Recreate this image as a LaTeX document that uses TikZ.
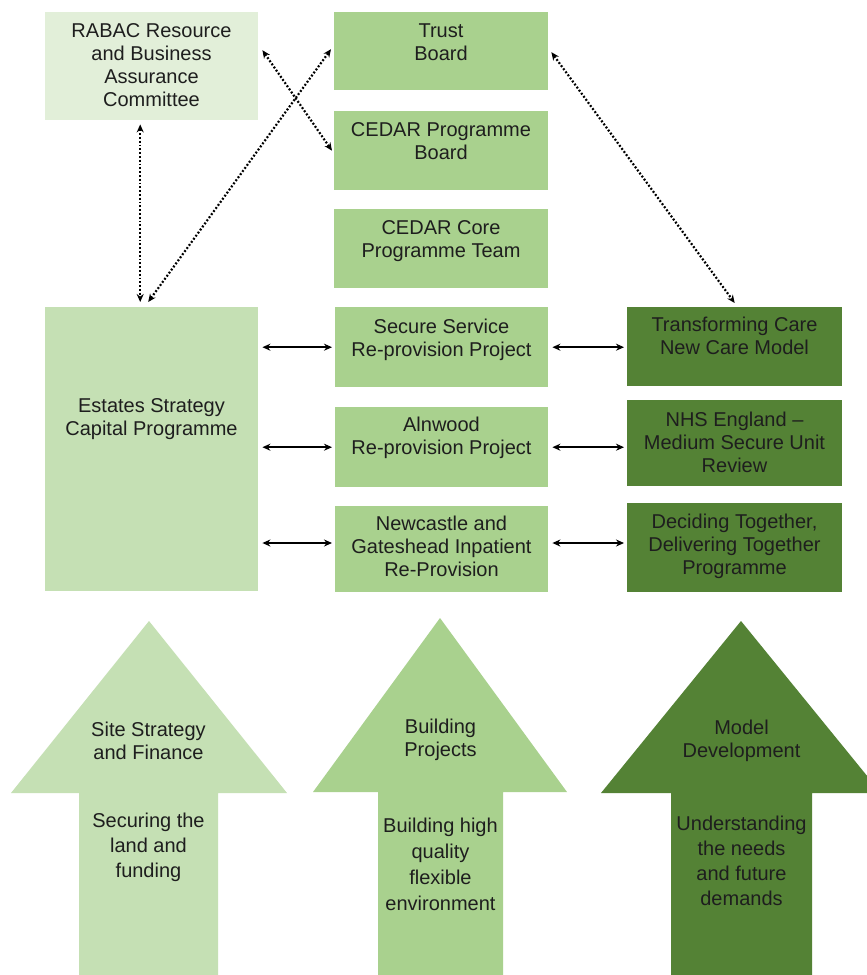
\documentclass[tikz,border=0pt]{standalone}
\usepackage{fontspec}
\setmainfont{Liberation Sans}
\usetikzlibrary{arrows.meta}

\definecolor{paleGreen}{HTML}{E2EFD9}
\definecolor{softGreen}{HTML}{C5E0B4}
\definecolor{midGreen}{HTML}{A9D18E}
\definecolor{darkGreen}{HTML}{548235}
\definecolor{inkGray}{HTML}{1E1E1E}

\begin{document}
\begin{tikzpicture}[x=1pt, y=-1pt,
  box/.style={draw=none, inner sep=0pt, anchor=north west},
  lbl/.style={anchor=base, align=center, inner sep=0pt, text=inkGray,
              font=\fontsize{20}{23}\selectfont},
  lblwide/.style={lbl, font=\fontsize{20}{25}\selectfont},
  link/.style={line width=1.8pt, black,
               {Stealth[length=8pt,width=7pt]}-{Stealth[length=8pt,width=7pt]},
               shorten <=4pt, shorten >=3pt},
  dotlink/.style={line width=2.2pt, black, dash pattern=on 1.9pt off 1.9pt,
               {Stealth[length=8pt,width=7pt]}-{Stealth[length=8pt,width=7pt]}}
]
\useasboundingbox (0,0) rectangle (867,975);
\clip (0,0) rectangle (867,975);
\fill[white] (0,0) rectangle (867,975);

% upward block arrows along the bottom
\fill[softGreen] (149,621) -- (287,793) -- (218,793) -- (218,975) -- (79,975)
  -- (79,793) -- (11,793) -- cycle;
\fill[midGreen] (440,618) -- (567,792) -- (503,792) -- (503,975) -- (378,975)
  -- (378,792) -- (313,792) -- cycle;
\fill[darkGreen] (741,621) -- (881,793) -- (812,793) -- (812,975) -- (671,975)
  -- (671,793) -- (601,793) -- cycle;

\node[lbl] (siteHead) at (148.5,759) {Site Strategy\\and Finance};
\node[lblwide] (siteShaft) at (148.5,877) {Securing the\\land and\\funding};
\node[lbl] (buildHead) at (440.5,756) {Building\\Projects};
\node[lbl, font=\fontsize{20}{26}\selectfont] (buildShaft) at (440.5,910)
  {Building high\\quality\\flexible\\environment};
\node[lbl] (modelHead) at (741.5,757) {Model\\Development};
\node[lblwide] (modelShaft) at (741.5,905)
  {Understanding\\the needs\\and future\\demands};

% governance boxes
\node[box, fill=paleGreen, minimum width=213pt, minimum height=108pt] (rabac) at (45,12) {};
\node[box, fill=midGreen, minimum width=214pt, minimum height=78pt] (trust) at (334,12) {};
\node[box, fill=midGreen, minimum width=214pt, minimum height=79pt] (cedarpb) at (334,111) {};
\node[box, fill=midGreen, minimum width=214pt, minimum height=79pt] (cedarcore) at (334,209) {};

% project rows
\node[box, fill=softGreen, minimum width=213pt, minimum height=284pt] (estates) at (45,307) {};
\node[box, fill=midGreen, minimum width=213pt, minimum height=80pt] (secure) at (335,307) {};
\node[box, fill=midGreen, minimum width=213pt, minimum height=80pt] (alnwood) at (335,407) {};
\node[box, fill=midGreen, minimum width=213pt, minimum height=86pt] (newcastle) at (335,506) {};
\node[box, fill=darkGreen, minimum width=215pt, minimum height=79pt] (transform) at (627,307) {};
\node[box, fill=darkGreen, minimum width=215pt, minimum height=86pt] (nhs) at (627,400) {};
\node[box, fill=darkGreen, minimum width=215pt, minimum height=89pt] (deciding) at (627,503) {};

% box texts (anchored on the baseline of the last line)
\node[lbl] (rabacT) at (151.5,106) {RABAC Resource\\and Business\\Assurance\\Committee};
\node[lbl] (trustT) at (441,60) {Trust\\Board};
\node[lbl] (cedarpbT) at (441,159) {CEDAR Programme\\Board};
\node[lbl] (cedarcoreT) at (441,257) {CEDAR Core\\Programme Team};
\node[lbl] (estatesT) at (151.5,435) {Estates Strategy\\Capital Programme};
\node[lbl] (secureT) at (441.5,356) {Secure Service\\Re-provision Project};
\node[lbl] (alnwoodT) at (441.5,454) {Alnwood\\Re-provision Project};
\node[lbl] (newcastleT) at (441.5,576) {Newcastle and\\Gateshead Inpatient\\Re-Provision};
\node[lbl] (transformT) at (734.5,354) {Transforming Care\\New Care Model};
\node[lbl] (nhsT) at (734.5,472) {NHS England –\\Medium Secure Unit\\Review};
\node[lbl] (decidingT) at (734.5,574) {Deciding Together,\\Delivering Together\\Programme};

% two-way links between the rows
\coordinate (rowThree) at (300,543);
\draw[link] (estates.east |- secure.west) -- (secure.west);
\draw[link] (secure.east) -- (transform.west |- secure.east);
\draw[link] (estates.east |- alnwood.west) -- (alnwood.west);
\draw[link] (alnwood.east) -- (nhs.west |- alnwood.east);
\draw[link] (estates.east |- rowThree) -- (newcastle.west |- rowThree);
\draw[link] (newcastle.east |- rowThree) -- (deciding.west |- rowThree);

% dotted reporting lines
\draw[dotlink] ([xshift=-11.5pt,yshift=-4pt]rabac.south)
  -- ([xshift=-11.5pt,yshift=5pt]estates.north);
\draw[dotlink] ([xshift=-3.5pt,yshift=5pt]estates.north)
  -- ([xshift=-3pt,yshift=2pt]trust.west);
\draw[dotlink] ([xshift=4pt,yshift=16pt]rabac.east)
  -- ([xshift=-2pt]cedarpb.west);
\draw[dotlink] ([xshift=3pt,yshift=-1pt]trust.east)
  -- ([yshift=4pt]transform.north);
\end{tikzpicture}
\end{document}
